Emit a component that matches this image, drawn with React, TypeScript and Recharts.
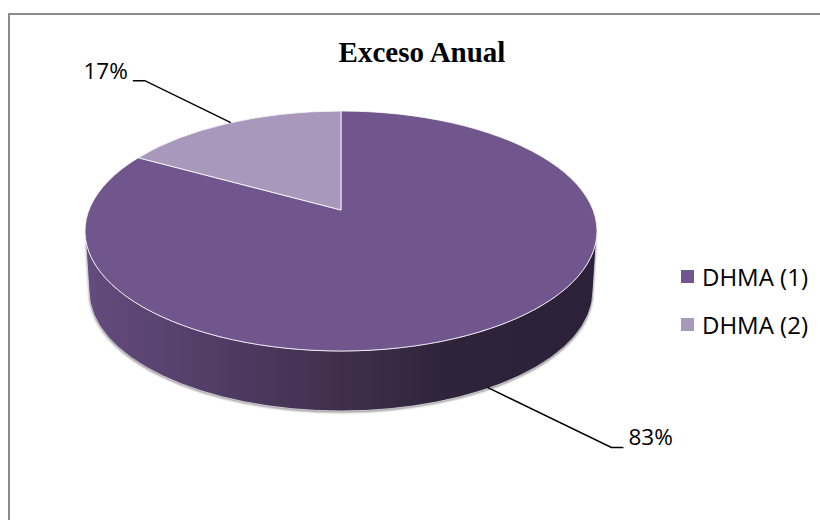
import React from "react";
import { PieChart, Pie, Cell, Legend } from "recharts";

const categories = ["DHMA (1)", "DHMA (2)"];
const values = [83, 17];
const colors = ["#70568c", "#a898bb"];
const tableData = categories.map((name, i) => ({ name, value: values[i] }));

const CX = 341, CY = 231, RX = 256, RY = 120, APEX_UP = 21, DEPTH = 60, BOTTOM_RX = 252;
const SANS = "'Open Sans', 'Noto Sans', sans-serif";
const RAD = Math.PI / 180;

// Where the ray from the tilted pie's apex reaches the rim of the top face.
function rim(angle: number) {
  const dx = Math.cos(angle * RAD);
  const dy = -(RY / RX) * Math.sin(angle * RAD);
  const ay = -APEX_UP;
  const a = (dx * dx) / (RX * RX) + (dy * dy) / (RY * RY);
  const b = (2 * ay * dy) / (RY * RY);
  const c = (ay * ay) / (RY * RY) - 1;
  const t = (-b + Math.sqrt(b * b - 4 * a * c)) / (2 * a);
  return { x: CX + t * dx, y: CY + ay + t * dy };
}

function wallPath() {
  return `M${CX - RX},${CY} A${RX},${RY} 0 0 0 ${CX + RX},${CY} L${CX + BOTTOM_RX},${CY + DEPTH} A${BOTTOM_RX},${RY} 0 0 1 ${CX - BOTTOM_RX},${CY + DEPTH} Z`;
}

function Slice(props: any) {
  const { startAngle, endAngle, fill, index } = props;
  const p1 = rim(startAngle);
  const p2 = rim(endAngle);
  const large = Math.abs(endAngle - startAngle) > 180 ? 1 : 0;
  const d = `M${CX},${CY - APEX_UP} L${p1.x},${p1.y} A${RX},${RY} 0 ${large} 1 ${p2.x},${p2.y} Z`;
  return (
    <g>
      {index === 0 && (
        <g>
          <path d={wallPath()} fill="#8a8a8a" transform="translate(0,1.5)" filter="url(#edgeBlur)" />
          <path d={wallPath()} fill="url(#wallShade)" stroke="#e6e3ea" strokeWidth={0.8} />
        </g>
      )}
      <path d={d} fill={fill} stroke="#ffffff" strokeWidth={0.8} />
    </g>
  );
}

function PercentLabel(props: any) {
  const { midAngle, percent } = props;
  const rimPoint = rim(midAngle);
  const front = Math.sin(midAngle * RAD) < 0;
  const ax = rimPoint.x + (front ? -3 : 0);
  const ay = rimPoint.y + (front ? DEPTH - 1 : 0);
  const sign = front ? 1 : -1;
  const ex = ax + sign * (front ? 124 : 86);
  const ey = ay + sign * (front ? 60 : 42);
  const lx = ex + sign * 12;
  return (
    <g>
      <polyline points={`${ax},${ay} ${ex},${ey} ${lx},${ey}`} fill="none" stroke="#000" strokeWidth={1.4} />
      <text x={lx + sign * 5} y={ey - 8} textAnchor={front ? "start" : "end"} dominantBaseline="middle"
        fontFamily={SANS} fontSize={22.5} fill="#000">
        {`${Math.round(percent * 100)}%`}
      </text>
    </g>
  );
}

function LegendBox(props: any) {
  const { payload } = props;
  return (
    <div style={{ fontFamily: SANS, fontSize: 24, color: "#000", whiteSpace: "nowrap" }}>
      {(payload || []).map((p: any, i: number) => (
        <div key={p.value} style={{ display: "flex", alignItems: "center", height: 48 }}>
          <span style={{ width: 13, height: 13, background: colors[i], marginRight: 8, display: "inline-block" }} />
          <span>{p.value}</span>
        </div>
      ))}
    </div>
  );
}

export default function App() {
  return (
    <div style={{ position: "absolute", left: 0, top: 0, width: 820, height: 520, background: "#fff", overflow: "hidden" }}>
      <div style={{ position: "absolute", left: 8, top: 13, width: 812, height: 507, borderTop: "2px solid #8c8c8c", borderLeft: "2px solid #8c8c8c", boxSizing: "border-box" }} />
      <PieChart width={820} height={520} margin={{ top: 0, right: 0, bottom: 0, left: 0 }} style={{ position: "absolute", left: 0, top: 0 }}>
        <defs>
          <linearGradient id="wallShade" gradientUnits="userSpaceOnUse" x1={CX - RX} y1={0} x2={CX + RX} y2={0}>
            <stop offset="0" stopColor="#644c7e" />
            <stop offset="0.25" stopColor="#513d66" />
            <stop offset="0.5" stopColor="#3f2f4c" />
            <stop offset="0.72" stopColor="#2e2339" />
            <stop offset="1" stopColor="#2c2138" />
          </linearGradient>
          <filter id="edgeBlur" x="-5%" y="-5%" width="110%" height="110%">
            <feGaussianBlur stdDeviation="1" />
          </filter>
        </defs>
        <text x={422} y={62} textAnchor="middle" fontFamily="'Liberation Serif', serif" fontWeight="bold" fontSize={29} fill="#000">
          Exceso Anual
        </text>
        <Pie
          data={tableData}
          dataKey="value"
          nameKey="name"
          cx={CX}
          cy={CY}
          outerRadius={RX}
          innerRadius={0}
          startAngle={90}
          endAngle={-270}
          stroke="none"
          isAnimationActive={false}
          shape={Slice}
          label={PercentLabel}
          labelLine={false}
        >
          {tableData.map((d, i) => (
            <Cell key={d.name} fill={colors[i]} />
          ))}
        </Pie>
        <Legend content={LegendBox} layout="vertical" verticalAlign="top" align="left"
          wrapperStyle={{ left: 681, top: 252, width: 135 }} />
      </PieChart>
    </div>
  );
}
